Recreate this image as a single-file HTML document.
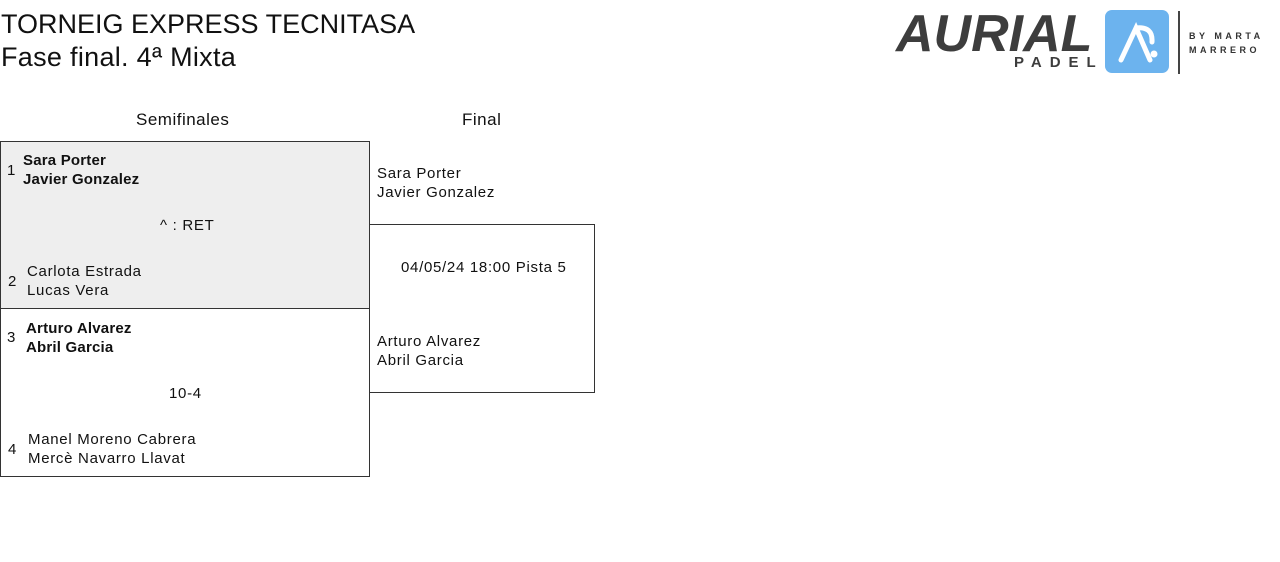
<!DOCTYPE html>
<html><head><meta charset="utf-8"><style>
body{margin:0;width:1280px;height:562px;background:#fff;font-family:"Liberation Sans",sans-serif;color:#111;position:relative;overflow:hidden}
.a{position:absolute;white-space:nowrap}
.t{font-size:15px;line-height:19px;letter-spacing:0.7px}
.b{font-weight:bold;letter-spacing:0.2px}
.box{position:absolute;border:1px solid #333;box-sizing:border-box}
</style></head><body>
<div class="a" style="left:1px;top:9px;font-size:27px;line-height:30px;letter-spacing:0px">TORNEIG EXPRESS TECNITASA</div>
<div class="a" style="left:1px;top:42px;font-size:27px;line-height:30px;letter-spacing:0.3px">Fase final. 4ª Mixta</div>

<!-- logo -->
<div class="a" style="left:896px;top:6px;font-size:52px;font-weight:bold;font-style:italic;color:#3d3d3d;letter-spacing:0px;line-height:56px">AURIAL</div>
<div class="a b" style="left:1014px;top:54px;font-size:15px;color:#3d3d3d;letter-spacing:8px">PADEL</div>
<div class="a" style="left:1105px;top:10px;width:64px;height:63px;background:#6cb3ee;border-radius:7px">
<svg width="64" height="63"><path d="M16 50 L31 18 L45 50 M31 18 Q48 16 47 32" stroke="#fff" stroke-width="5" fill="none" stroke-linecap="round"/><circle cx="49" cy="44" r="3.5" fill="#fff"/></svg></div>
<div class="a" style="left:1178px;top:11px;width:2px;height:63px;background:#444"></div>
<div class="a" style="left:1189px;top:29px;font-size:9px;line-height:14px;letter-spacing:3.5px;color:#333;font-weight:bold">BY MARTA<br>MARRERO</div>

<div class="a" style="left:136px;top:110px;font-size:17px;letter-spacing:0.5px">Semifinales</div>
<div class="a" style="left:462px;top:110px;font-size:17px;letter-spacing:0.5px">Final</div>

<div class="box" style="left:0;top:141px;width:370px;height:168px;background:#eee"></div>
<div class="box" style="left:0;top:308px;width:370px;height:169px"></div>
<div class="box" style="left:369px;top:224px;width:226px;height:169px"></div>

<div class="a t" style="left:7px;top:161px">1</div>
<div class="a t b" style="left:23px;top:151px">Sara Porter<br>Javier Gonzalez</div>
<div class="a t" style="left:160px;top:216px">^ : RET</div>
<div class="a t" style="left:8px;top:272px">2</div>
<div class="a t" style="left:27px;top:262px">Carlota Estrada<br>Lucas Vera</div>

<div class="a t" style="left:7px;top:328px">3</div>
<div class="a t b" style="left:26px;top:319px">Arturo Alvarez<br>Abril Garcia</div>
<div class="a t" style="left:169px;top:384px">10-4</div>
<div class="a t" style="left:8px;top:440px">4</div>
<div class="a t" style="left:28px;top:430px">Manel Moreno Cabrera<br>Mercè Navarro Llavat</div>

<div class="a t" style="left:377px;top:164px">Sara Porter<br>Javier Gonzalez</div>
<div class="a t" style="left:401px;top:258px">04/05/24 18:00 Pista 5</div>
<div class="a t" style="left:377px;top:332px">Arturo Alvarez<br>Abril Garcia</div>
</body></html>
